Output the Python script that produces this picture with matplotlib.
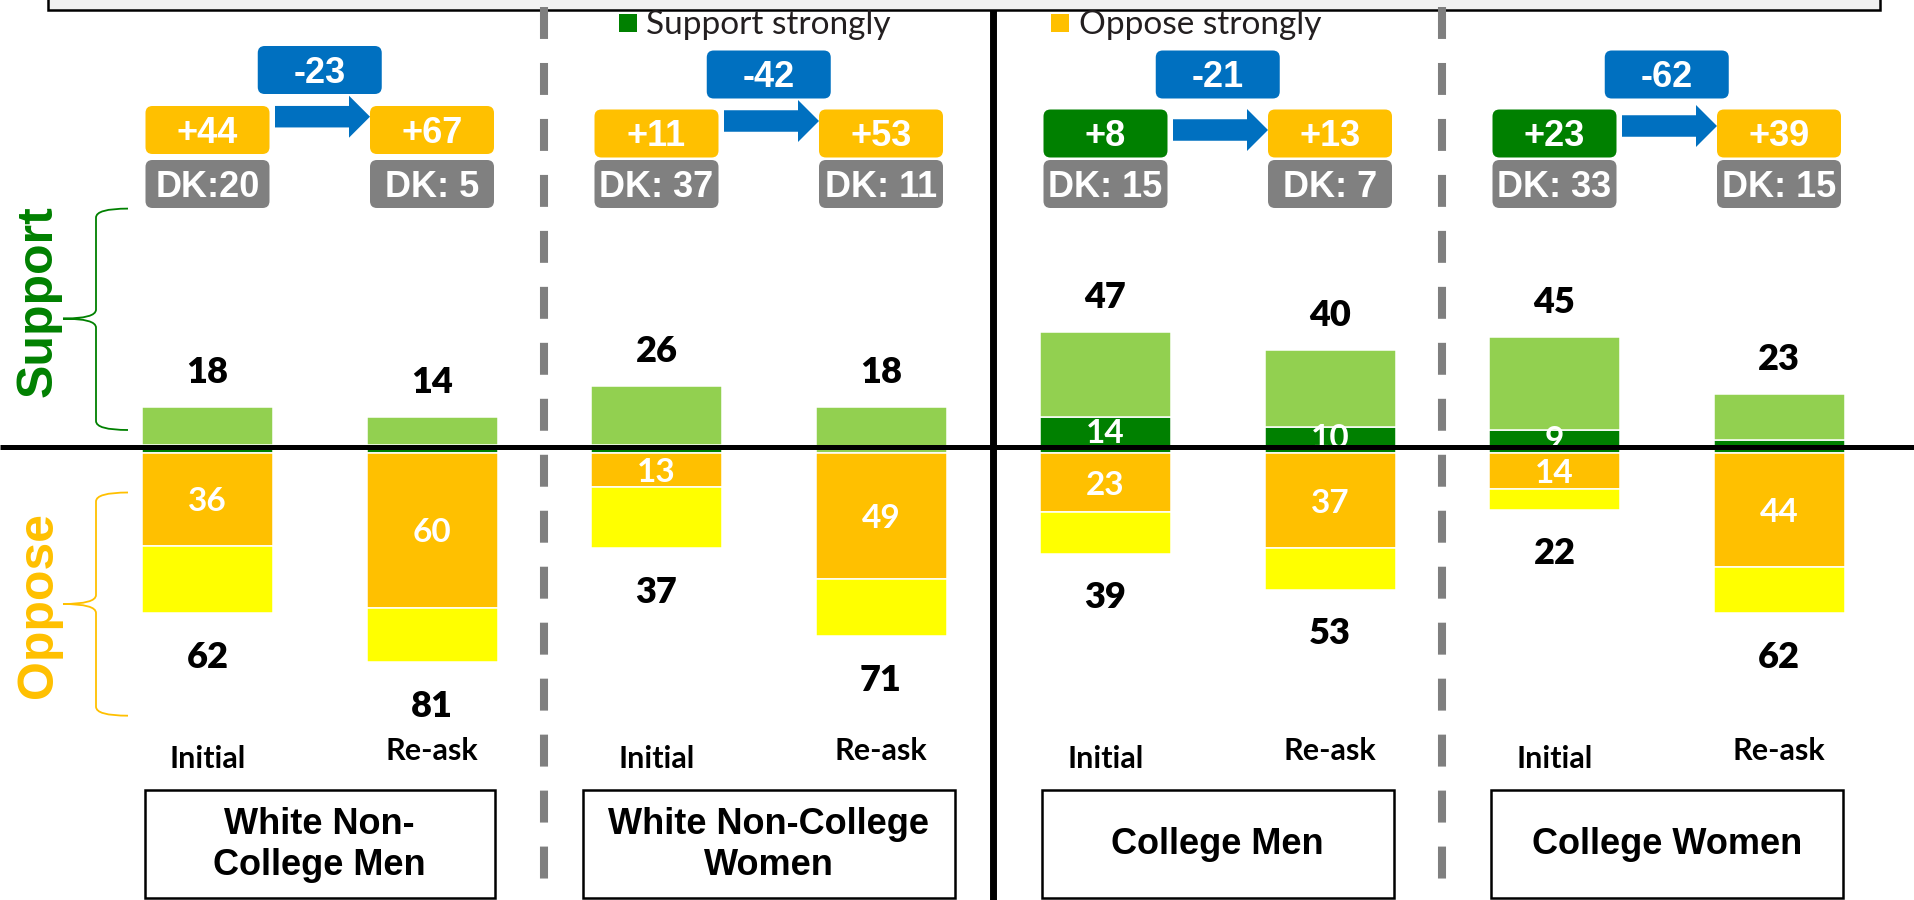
import numpy as np
import matplotlib
matplotlib.use("Agg")
import matplotlib.pyplot as plt
from matplotlib.patches import FancyBboxPatch, Rectangle, FancyArrow, PathPatch
from matplotlib.path import Path


plt.rcParams["font.family"] = ["Lato", "DejaVu Sans"]
plt.rcParams["lines.scale_dashes"] = False


# ---- data ----
groups = ["White Non-\nCollege Men", "White Non-College\nWomen", "College Men", "College Women"]
rounds = ["Initial", "Re-ask"]

support_total = [18, 14, 26, 18, 47, 40, 45, 23]
support_strong = [3, 3, 3, 0, 14, 10, 9, 5]
oppose_total = [62, 81, 37, 71, 39, 53, 22, 62]
oppose_strong = [36, 60, 13, 49, 23, 37, 14, 44]
dont_know = [20, 5, 37, 11, 15, 7, 33, 15]
dk_labels = ["DK:20", "DK: 5", "DK: 37", "DK: 11", "DK: 15", "DK: 7", "DK: 33", "DK: 15"]

# ---- colours ----
LIGHT_GREEN = "#92d050"
DARK_GREEN = "#008000"
ORANGE = "#ffc000"
YELLOW = "#ffff00"
BLUE = "#0070c0"
GRAY = "#808080"
DASH_GRAY = "#7f7f7f"

ARIAL = ["Liberation Sans", "DejaVu Sans"]
CALIBRI = ["Lato", "DejaVu Sans"]

W, H = 1915, 900
ZERO_PX = 453.0       # pixel row (from top) of value 0
PX_PER_UNIT = 2.58
X0_PX = 207.5         # centre of first bar
DX_PX = 224.5         # spacing between bars
BAR_W = 131.0 / DX_PX


def cap_px(fs, ratio=0.716):
    return ratio * fs * 100.0 / 72.0


def badge(ov, xc, yc, w, h, color, text, fs=26):
    ov.add_patch(FancyBboxPatch((xc - w / 2, yc - h / 2), w, h,
                                boxstyle="round,pad=0,rounding_size=7",
                                fc=color, ec="none"))
    ov.text(xc, yc + cap_px(fs) / 2, text, ha="center", va="baseline",
            color="white", fontsize=fs, fontweight="bold", family=ARIAL)


def brace(ov, x_end, x_spine, x_tip, y0, y1, ym, r, color):
    verts = [(x_end, y0), (x_spine, y0), (x_spine, y0 + r),
             (x_spine, ym - r),
             (x_spine, ym), (x_tip, ym),
             (x_spine, ym), (x_spine, ym + r),
             (x_spine, y1 - r),
             (x_spine, y1), (x_end, y1)]
    codes = [Path.MOVETO, Path.CURVE3, Path.CURVE3,
             Path.LINETO,
             Path.CURVE3, Path.CURVE3,
             Path.CURVE3, Path.CURVE3,
             Path.LINETO,
             Path.CURVE3, Path.CURVE3]
    ov.add_patch(PathPatch(Path(verts, codes), fc="none", ec=color, lw=1.3))


def main():
    n = len(support_total)
    x = np.arange(n)

    fig = plt.figure(figsize=(W / 100, H / 100), dpi=100)

    # bar axes placed so the value 0 sits at ZERO_PX
    ylo, yhi = -100, 60
    left_px = X0_PX - 0.5 * DX_PX
    bottom_px = H - (ZERO_PX - ylo * PX_PER_UNIT)
    ax = fig.add_axes([left_px / W, bottom_px / H,
                       n * DX_PX / W, (yhi - ylo) * PX_PER_UNIT / H])
    ax.set_xlim(-0.5, n - 0.5)
    ax.set_ylim(ylo, yhi)
    ax.axis("off")

    s_strong = np.array(support_strong)
    s_rest = np.array(support_total) - s_strong
    o_strong = np.array(oppose_strong)
    o_rest = np.array(oppose_total) - o_strong

    kw = dict(width=BAR_W, edgecolor="white", linewidth=1.1, clip_on=False)
    ax.bar(x, s_strong, color=DARK_GREEN, **kw)
    ax.bar(x, s_rest, bottom=s_strong, color=LIGHT_GREEN, **kw)
    ax.bar(x, -o_strong, color=ORANGE, **kw)
    ax.bar(x, -o_rest, bottom=-o_strong, color=YELLOW, **kw)

    # totals above / below
    for i in range(n):
        ax.annotate(str(support_total[i]), (i, support_total[i]), xytext=(0, 17),
                    textcoords="offset points", ha="center", va="baseline",
                    fontsize=26, fontweight="heavy", color="black")
        ax.annotate(str(oppose_total[i]), (i, -oppose_total[i]), xytext=(0, -39.4),
                    textcoords="offset points", ha="center", va="baseline",
                    fontsize=26, fontweight="heavy", color="black")
        # white labels inside strong segments
        ax.annotate(str(oppose_strong[i]), (i, -oppose_strong[i] / 2), xytext=(0, -8.6),
                    textcoords="offset points", ha="center", va="baseline",
                    fontsize=24, fontweight="bold", color="white")
        if support_strong[i] >= 8:
            ax.annotate(str(support_strong[i]), (i, support_strong[i] / 2), xytext=(0, -6),
                        textcoords="offset points", ha="center", va="baseline",
                        fontsize=24, fontweight="bold", color="white")

    # overlay in pixel coordinates (y downwards)
    ov = fig.add_axes([0, 0, 1, 1])
    ov.set_xlim(0, W)
    ov.set_ylim(H, 0)
    ov.axis("off")
    ov.patch.set_visible(False)

    def bar_px(i):
        return ax.transData.transform((i, 0))[0]

    centers = [bar_px(i) for i in range(n)]

    # top box
    ov.add_patch(Rectangle((48, -20), 1832, 30, fc="#f2f2f2", ec="black", lw=1.8))

    # legend
    ov.add_patch(Rectangle((619, 14), 18, 18, fc=DARK_GREEN, ec="none"))
    ov.text(646, 34, "Support strongly", fontsize=24, color="#231f20",
            va="baseline", family=CALIBRI)
    ov.add_patch(Rectangle((1051, 14), 18, 18, fc=ORANGE, ec="none"))
    ov.text(1079, 34, "Oppose strongly", fontsize=24, color="#231f20",
            va="baseline", family=CALIBRI)

    # separators between groups
    for g in range(len(groups) - 1):
        xs = (centers[2 * g + 1] + centers[2 * g + 2]) / 2
        if g == 1:
            ov.plot([xs, xs], [10, H], color="black", lw=5, solid_capstyle="butt")
        else:
            ov.plot([xs, xs], [7, H], color=DASH_GRAY, lw=5.8,
                    linestyle=(0, (23, 17.3)), solid_capstyle="butt",
                    dash_capstyle="butt")

    # zero line
    ov.plot([0, W], [447, 447], color="black", lw=3.6, solid_capstyle="butt")

    # badges
    net = np.array(support_total) - np.array(oppose_total)
    net_y = [130, 133.5, 133.5, 133.5]
    shift_y = [70, 74.5, 74.5, 74.5]
    arrow_y = [116.7, 121, 130, 126]
    bw, bh = 124, 48
    for g in range(len(groups)):
        i0, i1 = 2 * g, 2 * g + 1
        c0, c1 = centers[i0], centers[i1]
        for i, c in ((i0, c0), (i1, c1)):
            color = DARK_GREEN if net[i] > 0 else ORANGE
            badge(ov, c, net_y[g], bw, bh, color, "+%d" % abs(net[i]))
            badge(ov, c, 184, bw, bh, GRAY, dk_labels[i])
        shift = net[i1] - net[i0]
        badge(ov, (c0 + c1) / 2, shift_y[g], bw, bh, BLUE, "%+d" % shift)
        xa = c0 + bw / 2 + 5.5
        xb = c1 - bw / 2
        ov.add_patch(FancyArrow(xa, arrow_y[g], xb - xa, 0, width=21.5,
                                head_width=42, head_length=21,
                                length_includes_head=True, fc=BLUE, ec="none"))

    # round labels
    for i in range(n):
        yb = 768.5 if i % 2 == 0 else 759.5
        ov.text(centers[i], yb, rounds[i % 2], ha="center", va="baseline",
                fontsize=22, fontweight="bold", color="black", family=CALIBRI)

    # group label boxes
    box_w = [350, 372, 352, 352]
    for g, name in enumerate(groups):
        xc = (centers[2 * g] + centers[2 * g + 1]) / 2
        ov.add_patch(Rectangle((xc - box_w[g] / 2, 790), box_w[g], 108,
                               fc="white", ec="black", lw=1.8))
        ov.text(xc, 845, name, ha="center", va="center", fontsize=26,
                fontweight="bold", family=ARIAL, linespacing=1.25)

    # side braces
    brace(ov, 128, 96, 63, 208.6, 430, 318.6, 9, DARK_GREEN)
    brace(ov, 128, 96, 63, 492.5, 715.7, 604, 9, ORANGE)
    ov.text(39, 301, "Support", rotation=90, ha="center", va="center",
            fontsize=36, fontweight="bold", color=DARK_GREEN, family=ARIAL)
    ov.text(39, 605, "Oppose", rotation=90, ha="center", va="center",
            fontsize=36, fontweight="bold", color=ORANGE, family=ARIAL)

    fig.savefig("out.png", dpi=100)
    plt.close(fig)


if __name__ == "__main__":
    main()
